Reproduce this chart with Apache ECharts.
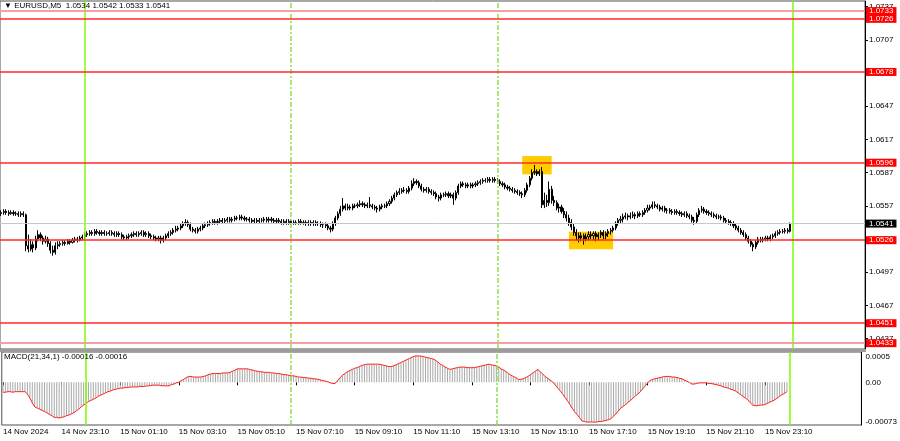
<!DOCTYPE html>
<html>
<head>
<meta charset="utf-8">
<script src="https://cdn.jsdelivr.net/npm/echarts@6/dist/echarts.min.js"></script>
<style>
html, body { margin: 0; padding: 0; background: #fff; }
#chart { width: 900px; height: 441px; }
</style>
</head>
<body>
<div id="chart"></div>
<script>
// EURUSD M5, 14 Nov 21:10 .. 15 Nov 23:55 (one row = one hour, 12 bars)
const firstOpen = 1.0550
const closes = [
  1.0551,1.0552,1.0551,1.0550,1.0551,1.0550,1.0550,1.0549,1.0550,1.0549,1.0521,1.0518,
  1.0522,1.0519,1.0527,1.0531,1.0528,1.0525,1.0527,1.0523,1.0517,1.0515,1.0521,1.0522,
  1.0523,1.0524,1.0523,1.0525,1.0524,1.0526,1.0527,1.0526,1.0528,1.0529,1.0531,1.0532,
  1.0533,1.0532,1.0534,1.0533,1.0532,1.0533,1.0532,1.0532,1.0533,1.0532,1.0531,1.0532,
  1.0531,1.0529,1.0528,1.0529,1.0530,1.0531,1.0532,1.0531,1.0532,1.0533,1.0531,1.0532,
  1.0530,1.0529,1.0528,1.0527,1.0528,1.0526,1.0528,1.0530,1.0532,1.0533,1.0535,1.0536,
  1.0537,1.0539,1.0541,1.0542,1.0540,1.0536,1.0535,1.0534,1.0536,1.0537,1.0539,1.0540,
  1.0541,1.0542,1.0543,1.0542,1.0543,1.0544,1.0543,1.0544,1.0545,1.0544,1.0545,1.0546,
  1.0546,1.0547,1.0546,1.0545,1.0545,1.0544,1.0543,1.0544,1.0543,1.0544,1.0544,1.0545,
  1.0544,1.0545,1.0544,1.0543,1.0544,1.0543,1.0542,1.0543,1.0542,1.0543,1.0542,1.0542,
  1.0542,1.0543,1.0542,1.0542,1.0541,1.0542,1.0541,1.0542,1.0541,1.0541,1.0540,1.0540,
  1.0539,1.0537,1.0536,1.0541,1.0546,1.0550,1.0554,1.0557,1.0555,1.0556,1.0555,1.0557,
  1.0557,1.0558,1.0559,1.0558,1.0557,1.0558,1.0557,1.0556,1.0555,1.0554,1.0556,1.0557,
  1.0557,1.0559,1.0561,1.0564,1.0567,1.0569,1.0570,1.0571,1.0571,1.0570,1.0573,1.0577,
  1.0579,1.0578,1.0575,1.0572,1.0571,1.0572,1.0570,1.0569,1.0568,1.0565,1.0564,1.0567,
  1.0567,1.0568,1.0566,1.0567,1.0564,1.0569,1.0575,1.0577,1.0576,1.0575,1.0576,1.0575,
  1.0576,1.0577,1.0578,1.0579,1.0580,1.0580,1.0581,1.0580,1.0581,1.0580,1.0579,1.0577,
  1.0576,1.0574,1.0573,1.0572,1.0571,1.0570,1.0569,1.0568,1.0567,1.0571,1.0576,1.0582,
  1.0587,1.0588,1.0586,1.0588,1.0558,1.0562,1.0560,1.0572,1.0562,1.0560,1.0555,1.0556,
  1.0552,1.0549,1.0546,1.0542,1.0538,1.0533,1.0530,1.0528,1.0530,1.0527,1.0529,1.0531,
  1.0530,1.0532,1.0529,1.0531,1.0533,1.0530,1.0532,1.0534,1.0535,1.0537,1.0541,1.0544,
  1.0545,1.0547,1.0548,1.0547,1.0548,1.0549,1.0548,1.0550,1.0549,1.0551,1.0553,1.0555,
  1.0556,1.0558,1.0557,1.0556,1.0554,1.0555,1.0553,1.0553,1.0552,1.0551,1.0552,1.0551,
  1.0550,1.0549,1.0550,1.0548,1.0547,1.0544,1.0543,1.0549,1.0553,1.0554,1.0552,1.0551,
  1.0550,1.0549,1.0548,1.0547,1.0547,1.0546,1.0544,1.0543,1.0542,1.0541,1.0539,1.0537,
  1.0535,1.0533,1.0531,1.0528,1.0525,1.0522,1.0520,1.0524,1.0527,1.0526,1.0527,1.0528,
  1.0527,1.0529,1.0530,1.0532,1.0533,1.0534,1.0534,1.0535,1.0534,1.0541
]
const highs = [
  1.0553,1.0554,1.0554,1.0553,1.0553,1.0553,1.0552,1.0552,1.0552,1.0552,1.0550,1.0531,
  1.0527,1.0525,1.0530,1.0535,1.0533,1.0530,1.0530,1.0529,1.0525,1.0521,1.0524,1.0525,
  1.0525,1.0526,1.0526,1.0527,1.0527,1.0528,1.0529,1.0529,1.0530,1.0531,1.0533,1.0534,
  1.0535,1.0535,1.0536,1.0536,1.0535,1.0535,1.0535,1.0534,1.0535,1.0535,1.0534,1.0534,
  1.0534,1.0533,1.0531,1.0531,1.0532,1.0533,1.0534,1.0534,1.0534,1.0535,1.0535,1.0534,
  1.0534,1.0532,1.0531,1.0530,1.0530,1.0530,1.0530,1.0532,1.0534,1.0535,1.0537,1.0539,
  1.0539,1.0541,1.0543,1.0545,1.0544,1.0542,1.0538,1.0537,1.0538,1.0539,1.0541,1.0542,
  1.0543,1.0544,1.0545,1.0545,1.0545,1.0546,1.0546,1.0546,1.0547,1.0547,1.0547,1.0548,
  1.0548,1.0549,1.0549,1.0548,1.0547,1.0547,1.0546,1.0546,1.0546,1.0546,1.0546,1.0547,
  1.0547,1.0547,1.0547,1.0546,1.0546,1.0546,1.0545,1.0545,1.0545,1.0545,1.0545,1.0544,
  1.0544,1.0545,1.0545,1.0544,1.0544,1.0544,1.0544,1.0544,1.0544,1.0543,1.0543,1.0542,
  1.0542,1.0541,1.0539,1.0543,1.0548,1.0552,1.0557,1.0564,1.0559,1.0559,1.0558,1.0559,
  1.0559,1.0560,1.0562,1.0561,1.0560,1.0560,1.0565,1.0559,1.0558,1.0557,1.0558,1.0559,
  1.0559,1.0561,1.0563,1.0566,1.0569,1.0571,1.0573,1.0573,1.0574,1.0573,1.0575,1.0580,
  1.0582,1.0581,1.0580,1.0577,1.0574,1.0574,1.0574,1.0572,1.0571,1.0570,1.0567,1.0569,
  1.0569,1.0570,1.0570,1.0569,1.0569,1.0571,1.0577,1.0579,1.0579,1.0578,1.0578,1.0578,
  1.0578,1.0579,1.0580,1.0581,1.0582,1.0582,1.0583,1.0583,1.0583,1.0583,1.0582,1.0581,
  1.0579,1.0578,1.0576,1.0575,1.0574,1.0573,1.0572,1.0571,1.0570,1.0573,1.0578,1.0584,
  1.0590,1.0594,1.0590,1.0590,1.0592,1.0569,1.0567,1.0579,1.0575,1.0566,1.0562,1.0559,
  1.0558,1.0555,1.0552,1.0549,1.0545,1.0541,1.0536,1.0533,1.0533,1.0532,1.0532,1.0534,
  1.0534,1.0534,1.0534,1.0533,1.0535,1.0535,1.0534,1.0536,1.0537,1.0539,1.0543,1.0546,
  1.0548,1.0550,1.0551,1.0550,1.0551,1.0552,1.0551,1.0552,1.0552,1.0553,1.0555,1.0558,
  1.0558,1.0561,1.0561,1.0559,1.0558,1.0557,1.0557,1.0555,1.0555,1.0554,1.0554,1.0554,
  1.0553,1.0552,1.0552,1.0552,1.0550,1.0549,1.0547,1.0551,1.0555,1.0557,1.0556,1.0554,
  1.0553,1.0552,1.0551,1.0550,1.0549,1.0549,1.0548,1.0546,1.0545,1.0544,1.0543,1.0541,
  1.0539,1.0537,1.0535,1.0533,1.0530,1.0527,1.0524,1.0526,1.0529,1.0529,1.0529,1.0530,
  1.0530,1.0531,1.0532,1.0534,1.0535,1.0536,1.0536,1.0537,1.0537,1.0542
]
const lows = [
  1.0548,1.0549,1.0549,1.0548,1.0549,1.0548,1.0548,1.0547,1.0547,1.0547,1.0516,1.0515,
  1.0516,1.0515,1.0517,1.0525,1.0525,1.0522,1.0523,1.0520,1.0514,1.0512,1.0513,1.0518,
  1.0520,1.0521,1.0521,1.0522,1.0522,1.0523,1.0524,1.0524,1.0525,1.0526,1.0527,1.0529,
  1.0530,1.0530,1.0530,1.0531,1.0530,1.0530,1.0530,1.0530,1.0530,1.0530,1.0529,1.0529,
  1.0529,1.0527,1.0526,1.0526,1.0527,1.0528,1.0529,1.0529,1.0529,1.0530,1.0529,1.0529,
  1.0528,1.0527,1.0526,1.0525,1.0525,1.0523,1.0524,1.0526,1.0528,1.0530,1.0531,1.0533,
  1.0534,1.0535,1.0537,1.0539,1.0538,1.0534,1.0533,1.0532,1.0532,1.0534,1.0535,1.0537,
  1.0538,1.0539,1.0540,1.0540,1.0540,1.0541,1.0541,1.0541,1.0542,1.0542,1.0542,1.0543,
  1.0544,1.0544,1.0544,1.0543,1.0543,1.0542,1.0541,1.0541,1.0541,1.0541,1.0542,1.0542,
  1.0542,1.0542,1.0542,1.0541,1.0541,1.0541,1.0540,1.0540,1.0540,1.0540,1.0540,1.0540,
  1.0540,1.0540,1.0540,1.0540,1.0539,1.0539,1.0539,1.0539,1.0539,1.0539,1.0538,1.0537,
  1.0537,1.0535,1.0533,1.0534,1.0539,1.0544,1.0548,1.0552,1.0553,1.0553,1.0553,1.0553,
  1.0555,1.0555,1.0556,1.0556,1.0555,1.0555,1.0555,1.0554,1.0553,1.0551,1.0552,1.0554,
  1.0555,1.0555,1.0557,1.0559,1.0562,1.0565,1.0567,1.0568,1.0569,1.0568,1.0568,1.0571,
  1.0575,1.0576,1.0573,1.0570,1.0569,1.0569,1.0568,1.0567,1.0566,1.0563,1.0561,1.0562,
  1.0565,1.0565,1.0564,1.0564,1.0558,1.0562,1.0567,1.0573,1.0574,1.0573,1.0573,1.0573,
  1.0573,1.0574,1.0575,1.0576,1.0577,1.0578,1.0578,1.0578,1.0578,1.0578,1.0577,1.0575,
  1.0574,1.0572,1.0571,1.0570,1.0569,1.0568,1.0567,1.0566,1.0564,1.0565,1.0569,1.0574,
  1.0580,1.0585,1.0584,1.0584,1.0555,1.0555,1.0556,1.0557,1.0559,1.0557,1.0553,1.0551,
  1.0550,1.0546,1.0543,1.0539,1.0535,1.0530,1.0526,1.0524,1.0525,1.0522,1.0525,1.0526,
  1.0527,1.0526,1.0525,1.0526,1.0528,1.0527,1.0527,1.0529,1.0531,1.0533,1.0535,1.0539,
  1.0541,1.0542,1.0545,1.0544,1.0545,1.0546,1.0545,1.0546,1.0547,1.0547,1.0549,1.0551,
  1.0553,1.0554,1.0555,1.0554,1.0552,1.0552,1.0551,1.0550,1.0550,1.0549,1.0549,1.0549,
  1.0548,1.0547,1.0547,1.0546,1.0545,1.0542,1.0540,1.0541,1.0547,1.0551,1.0550,1.0549,
  1.0548,1.0547,1.0546,1.0545,1.0545,1.0544,1.0542,1.0541,1.0540,1.0539,1.0537,1.0535,
  1.0533,1.0531,1.0529,1.0526,1.0523,1.0520,1.0516,1.0518,1.0522,1.0524,1.0524,1.0525,
  1.0525,1.0525,1.0527,1.0528,1.0530,1.0531,1.0532,1.0532,1.0532,1.0533
]
// MACD(21,34,1) main line, same bars
const macd = [
  -0.00017,-0.00017,-0.00016,-0.00016,-0.00017,-0.00016,-0.00016,-0.00016,-0.00016,-0.00016,-0.00020,-0.00027,
  -0.00035,-0.00042,-0.00044,-0.00046,-0.00048,-0.00050,-0.00052,-0.00055,-0.00057,-0.00060,-0.00060,-0.00061,
  -0.00060,-0.00059,-0.00057,-0.00056,-0.00054,-0.00052,-0.00049,-0.00046,-0.00042,-0.00039,-0.00036,-0.00033,
  -0.00031,-0.00029,-0.00027,-0.00024,-0.00022,-0.00020,-0.00018,-0.00016,-0.00015,-0.00013,-0.00012,-0.00011,
  -0.00010,-0.00010,-0.00009,-0.00009,-0.00008,-0.00008,-0.00008,-0.00008,-0.00007,-0.00007,-0.00007,-0.00006,
  -0.00006,-0.00005,-0.00005,-0.00005,-0.00005,-0.00006,-0.00006,-0.00006,-0.00006,-0.00004,-0.00003,-0.00001,
  0.00000,0.00003,0.00005,0.00008,0.00010,0.00010,0.00009,0.00009,0.00009,0.00009,0.00010,0.00011,
  0.00013,0.00014,0.00015,0.00015,0.00015,0.00015,0.00016,0.00016,0.00016,0.00017,0.00019,0.00021,
  0.00023,0.00023,0.00023,0.00023,0.00023,0.00022,0.00021,0.00020,0.00019,0.00018,0.00018,0.00017,
  0.00017,0.00017,0.00016,0.00016,0.00015,0.00015,0.00014,0.00013,0.00013,0.00012,0.00011,0.00011,
  0.00010,0.00009,0.00009,0.00008,0.00008,0.00007,0.00007,0.00006,0.00006,0.00005,0.00004,0.00003,
  0.00002,0.00001,-0.00001,-0.00002,-0.00002,0.00003,0.00008,0.00012,0.00015,0.00018,0.00020,0.00022,
  0.00024,0.00025,0.00027,0.00029,0.00030,0.00031,0.00031,0.00031,0.00031,0.00031,0.00031,0.00030,
  0.00029,0.00028,0.00027,0.00027,0.00028,0.00030,0.00032,0.00034,0.00036,0.00038,0.00040,0.00042,
  0.00044,0.00045,0.00045,0.00045,0.00044,0.00043,0.00042,0.00041,0.00040,0.00038,0.00035,0.00031,
  0.00029,0.00026,0.00024,0.00022,0.00023,0.00024,0.00025,0.00026,0.00026,0.00026,0.00025,0.00025,
  0.00025,0.00025,0.00026,0.00027,0.00028,0.00029,0.00030,0.00031,0.00030,0.00029,0.00028,0.00026,
  0.00023,0.00021,0.00018,0.00015,0.00012,0.00010,0.00008,0.00005,0.00005,0.00006,0.00008,0.00010,
  0.00013,0.00016,0.00019,0.00022,0.00018,0.00014,0.00010,0.00007,0.00004,0.00001,-0.00004,-0.00009,
  -0.00014,-0.00019,-0.00025,-0.00031,-0.00037,-0.00044,-0.00050,-0.00055,-0.00060,-0.00066,-0.00067,-0.00068,
  -0.00068,-0.00068,-0.00068,-0.00068,-0.00067,-0.00067,-0.00066,-0.00065,-0.00064,-0.00062,-0.00058,-0.00054,
  -0.00049,-0.00044,-0.00041,-0.00038,-0.00034,-0.00031,-0.00027,-0.00023,-0.00020,-0.00016,-0.00011,-0.00006,
  -0.00001,0.00003,0.00005,0.00006,0.00007,0.00008,0.00009,0.00010,0.00010,0.00010,0.00009,0.00009,
  0.00008,0.00007,0.00006,0.00004,0.00002,0.00000,-0.00003,-0.00003,-0.00002,-0.00001,-0.00001,-0.00001,
  -0.00001,-0.00002,-0.00002,-0.00003,-0.00004,-0.00005,-0.00006,-0.00008,-0.00009,-0.00010,-0.00012,-0.00013,
  -0.00015,-0.00018,-0.00021,-0.00024,-0.00027,-0.00030,-0.00035,-0.00039,-0.00040,-0.00040,-0.00039,-0.00039,
  -0.00038,-0.00036,-0.00034,-0.00032,-0.00030,-0.00027,-0.00024,-0.00021,-0.00019,-0.00016
]

const timeLabels = ['14 Nov 2024', '14 Nov 23:10', '15 Nov 01:10', '15 Nov 03:10', '15 Nov 05:10',
  '15 Nov 07:10', '15 Nov 09:10', '15 Nov 11:10', '15 Nov 13:10', '15 Nov 15:10',
  '15 Nov 17:10', '15 Nov 19:10', '15 Nov 21:10', '15 Nov 23:10']
const barsPerLabel = 24
const slotCount = 352 // bars plus empty space on the right

const priceTicks = [1.0737, 1.0707, 1.0678, 1.0647, 1.0617, 1.0587, 1.0557, 1.0527, 1.0497, 1.0467, 1.0437]
const levels = [1.0733, 1.0726, 1.0678, 1.0596, 1.0526, 1.0451, 1.0433]
const faintLevels = [1.0733, 1.0433]
const macdTicks = [0.0005, 0, -0.00073]

// bar indexes of the vertical separators
const dayLines = [34, 322]
const sessionLines = [118, 202]
// highlighted zones: [fromBar, topPrice, toBar, bottomPrice]
const zones = [[212, 1.0602, 224, 1.05855], [231, 1.05337, 249, 1.05178]]

const FONT = 'Liberation Sans'

const slots = []
for (let i = 0; i < slotCount; i++) slots.push(i)

const candles = closes.map((c, i) => [i === 0 ? firstOpen : closes[i - 1], c, lows[i], highs[i]])
const last = closes.length - 1

const showLabel = (idx) => idx % barsPerLabel === 0 && idx / barsPerLabel < timeLabels.length

const vLines = dayLines.map(i => ({
  xAxis: i, lineStyle: { color: '#7cfc00', width: 1.5, type: 'solid' }
})).concat(sessionLines.map(i => ({
  xAxis: i, lineStyle: { color: '#8ee04c', width: 1.5, type: [5, 2, 2, 2] }
})))

const boxLabel = (text, bg) => ({
  show: true, position: 'end', distance: 1,
  formatter: text,
  backgroundColor: bg, color: '#fff',
  fontFamily: 'Liberation Sans', fontSize: 8, lineHeight: 8, padding: [0, 3, 0, 3]
})

const levelLines = levels.map(v => {
  const faint = faintLevels.includes(v)
  return {
    yAxis: v,
    lineStyle: { color: faint ? '#f5a0a0' : '#ff2a2a', width: faint ? 2 : 1.5, type: 'solid' },
    label: boxLabel(v.toFixed(4), '#ff0000')
  }
})

const Chart = echarts.init(document.getElementById('chart'), null, { renderer: 'canvas' })

const options = {
  animation: false,
  backgroundColor: '#ffffff',
  textStyle: { fontFamily: FONT },
  title: [
    {
      text: '▼ EURUSD,M5  ' + [closes[last - 1], highs[last], lows[last], closes[last]].map(v => v.toFixed(4)).join(' '),
      left: 4, top: 2, padding: 0,
      textStyle: { fontFamily: FONT, fontSize: 8, fontWeight: 'normal', color: '#000' }
    },
    {
      text: 'MACD(21,34,1) ' + macd[last].toFixed(5) + ' ' + macd[last].toFixed(5),
      left: 4, top: 353, padding: 0,
      textStyle: { fontFamily: FONT, fontSize: 8, fontWeight: 'normal', color: '#000' }
    }
  ],
  grid: [
    { left: 0, right: 35, top: 1, height: 348, show: true, borderColor: '#505050', borderWidth: 1, backgroundColor: 'transparent' },
    { left: 0, right: 35, top: 352, height: 73, show: true, borderColor: '#505050', borderWidth: 1, backgroundColor: 'transparent' }
  ],
  graphic: [
    { type: 'rect', shape: { x: 0, y: 349, width: 866, height: 3 }, style: { fill: '#9c9c9c' }, z: 10 }
  ],
  xAxis: [
    {
      type: 'category', gridIndex: 0, data: slots, boundaryGap: true,
      axisLine: { show: false }, axisTick: { show: false }, axisLabel: { show: false }, splitLine: { show: false }
    },
    {
      type: 'category', gridIndex: 1, data: slots, boundaryGap: true,
      axisLine: { show: false },
      axisTick: { show: true, interval: showLabel, alignWithLabel: true, length: 3, lineStyle: { color: '#000' } },
      axisLabel: {
        show: true, interval: showLabel, align: 'left', margin: 3,
        formatter: (value, idx) => timeLabels[idx / barsPerLabel] || '',
        fontFamily: FONT, fontSize: 8, color: '#000'
      },
      splitLine: { show: false }
    }
  ],
  yAxis: [
    {
      type: 'value', gridIndex: 0, position: 'right', min: 1.04277, max: 1.07421,
      axisLine: { show: true, lineStyle: { color: '#000', width: 1 } },
      axisTick: { show: true, customValues: priceTicks, length: 3, inside: false, lineStyle: { color: '#000' } },
      axisLabel: {
        show: true, customValues: priceTicks, margin: 4, align: 'left',
        formatter: v => v.toFixed(4), fontFamily: FONT, fontSize: 8, color: '#000'
      },
      splitLine: { show: false }
    },
    {
      type: 'value', gridIndex: 1, position: 'right', min: -0.00073, max: 0.000518,
      axisLine: { show: true, lineStyle: { color: '#000', width: 1 } },
      axisTick: { show: false },
      axisLabel: {
        show: true, customValues: macdTicks, margin: 4, align: 'left',
        formatter: v => {
          if (v > 0) return '{top|0.0005}'
          if (v < 0) return '{bot|' + macdTicks[2].toFixed(5) + '}'
          return '{mid|0.00}'
        },
        rich: {
          top: { fontFamily: FONT, fontSize: 8, color: '#000', padding: [8, 0, 0, 0] },
          mid: { fontFamily: FONT, fontSize: 8, color: '#000' },
          bot: { fontFamily: FONT, fontSize: 8, color: '#000', padding: [0, 0, 7, 0] }
        }
      },
      splitLine: { show: false }
    }
  ],
  series: [
    {
      // yellow highlight zones sit under the candles
      name: 'zones', type: 'line', xAxisIndex: 0, yAxisIndex: 0, data: [], z: 1,
      markArea: {
        silent: true,
        itemStyle: { color: '#ffcc00', opacity: 1 },
        data: zones.map(z => [{ xAxis: z[0], yAxis: z[1] }, { xAxis: z[2], yAxis: z[3] }])
      }
    },
    {
      name: 'levels', type: 'line', xAxisIndex: 0, yAxisIndex: 0, data: [], z: 2,
      markLine: {
        silent: true, symbol: 'none', animation: false, precision: 5,
        data: vLines.concat(levelLines).concat([{
          yAxis: closes[last],
          lineStyle: { color: '#c8c8c8', width: 1, type: 'solid' },
          label: boxLabel(closes[last].toFixed(4), '#000000')
        }])
      }
    },
    {
      name: 'EURUSD', type: 'candlestick', xAxisIndex: 0, yAxisIndex: 0, z: 3,
      data: candles, barWidth: 1.6,
      itemStyle: { color: '#ffffff', color0: '#000000', borderColor: '#000000', borderColor0: '#000000', borderWidth: 1 }
    },
    {
      name: 'hist', type: 'bar', xAxisIndex: 1, yAxisIndex: 1, data: macd, barWidth: 1,
      itemStyle: { color: '#a8a8a8' },
      markLine: { silent: true, symbol: 'none', animation: false, label: { show: false }, data: vLines }
    },
    {
      name: 'signal', type: 'line', xAxisIndex: 1, yAxisIndex: 1, data: macd,
      symbol: 'none', lineStyle: { color: '#ff2020', width: 1 }
    }
  ]
}

Chart.setOption(options)
</script>
</body>
</html>
